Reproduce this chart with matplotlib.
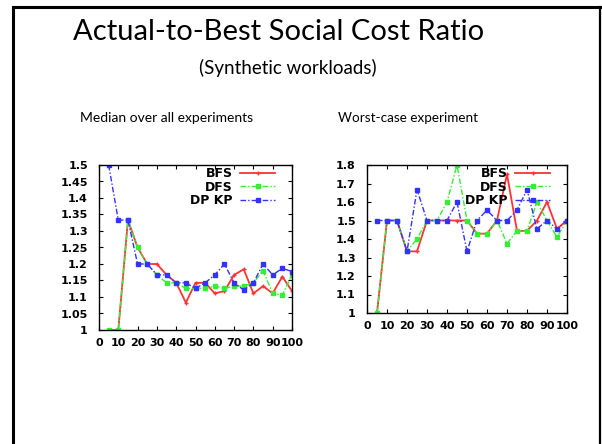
import matplotlib
matplotlib.use('Agg')
import matplotlib.pyplot as plt
from matplotlib.lines import Line2D

# x positions
x = [5, 10, 15, 20, 25, 30, 35, 40, 45, 50, 55, 60, 65, 70, 75, 80, 85, 90, 95, 100]

# median over all experiments
med_bfs = [1.0, 1.0, 1.333, 1.25, 1.2, 1.2, 1.167, 1.143, 1.083, 1.143, 1.143, 1.111, 1.118,
           1.167, 1.184, 1.111, 1.133, 1.111, 1.162, 1.118]
med_dfs = [1.0, 1.0, 1.333, 1.25, 1.2, 1.167, 1.143, 1.143, 1.126, 1.126, 1.126, 1.133, 1.126,
           1.133, 1.133, 1.143, 1.18, 1.111, 1.106, 1.167]
med_dpkp = [1.5, 1.333, 1.333, 1.2, 1.2, 1.167, 1.167, 1.143, 1.143, 1.126, 1.143, 1.167, 1.2,
            1.143, 1.121, 1.143, 1.2, 1.167, 1.187, 1.177]

# worst-case experiment
worst_bfs = [1.0, 1.5, 1.5, 1.333, 1.333, 1.5, 1.5, 1.5, 1.5, 1.5, 1.429, 1.429, 1.5,
             1.75, 1.444, 1.444, 1.5, 1.6, 1.455, 1.5]
worst_dfs = [1.0, 1.5, 1.5, 1.333, 1.4, 1.5, 1.5, 1.6, 1.8, 1.5, 1.429, 1.429, 1.5,
             1.375, 1.444, 1.444, 1.6, 1.5, 1.41, 1.5]
worst_dpkp = [1.5, 1.5, 1.5, 1.333, 1.667, 1.5, 1.5, 1.5, 1.6, 1.333, 1.5, 1.556, 1.5,
              1.5, 1.556, 1.667, 1.455, 1.5, 1.455, 1.5]

labels = ['BFS', 'DFS', 'DP KP']
colors = ['#ff3333', '#33ee33', '#3333ff']

tick_font = {'family': 'DejaVu Sans', 'size': 8, 'weight': 'bold'}

fig = plt.figure(figsize=(6.02, 4.44), dpi=100)

# slide frame
fig.add_artist(Line2D([13/602, 600/602], [1-7/444, 1-7/444], color='black', lw=2.2))
fig.add_artist(Line2D([13/602, 13/602], [1-7/444, 0], color='black', lw=2.2))
fig.add_artist(Line2D([600/602, 600/602], [1-7/444, 0], color='black', lw=1.6))

fig.text(279/602, 1-32/444, 'Actual-to-Best Social Cost Ratio', ha='center', va='center',
         fontsize=21, family='Lato')
fig.text(288/602, 1-68/444, '(Synthetic workloads)', ha='center', va='center',
         fontsize=13.5, family='Lato')
fig.text(167/602, 1-118/444, 'Median over all experiments', ha='center', va='center',
         fontsize=10, family='Lato')
fig.text(408/602, 1-118/444, 'Worst-case experiment', ha='center', va='center',
         fontsize=9.7, family='Lato')


def draw(ax, bfs, dfs, dpkp, ylim, yticks, w, h):
    ax.plot(x, bfs, color=colors[0], lw=1.3, ls='-', marker='+', ms=3, label=labels[0])
    ax.plot(x, dfs, color=colors[1], lw=1.0, ls=(0, (4, 1.5, 1, 1.5)), marker='s', ms=2.2,
            label=labels[1])
    ax.plot(x, dpkp, color=colors[2], lw=1.0, ls=(0, (4, 1.5, 1, 1.5)), marker='s', ms=2.2,
            label=labels[2])
    ax.set_xlim(0, 100)
    ax.set_ylim(*ylim)
    ax.set_xticks(range(0, 101, 10))
    ax.set_yticks(yticks)
    ax.set_xticklabels([str(v) for v in range(0, 101, 10)], fontdict=tick_font)
    ax.set_yticklabels([('%g' % v) for v in yticks], fontdict=tick_font)
    ax.tick_params(direction='in', top=True, right=True, length=3, width=0.8)
    ax.tick_params(axis='y', pad=8)
    ax.tick_params(axis='x', pad=6)
    for s in ax.spines.values():
        s.set_linewidth(1.0)
    leg = ax.legend(loc='upper right', bbox_to_anchor=(1 - 17/w, 1 - 2/h), frameon=False,
                    markerfirst=False, prop={'family': 'DejaVu Sans', 'size': 9, 'weight': 'bold'},
                    handlelength=2.8, borderaxespad=0, borderpad=0, labelspacing=0.05,
                    handletextpad=0.6)
    for t in leg.get_texts():
        t.set_ha('right')
    return leg


ax1 = fig.add_axes([99/602, 1-330/444, 193/602, 165/444])
draw(ax1, med_bfs, med_dfs, med_dpkp, (1, 1.5),
     [1, 1.05, 1.1, 1.15, 1.2, 1.25, 1.3, 1.35, 1.4, 1.45, 1.5], 193, 165)

ax2 = fig.add_axes([367/602, 1-313/444, 200/602, 148/444])
draw(ax2, worst_bfs, worst_dfs, worst_dpkp, (1, 1.8),
     [1, 1.1, 1.2, 1.3, 1.4, 1.5, 1.6, 1.7, 1.8], 200, 148)

fig.savefig('out.png', dpi=100)
